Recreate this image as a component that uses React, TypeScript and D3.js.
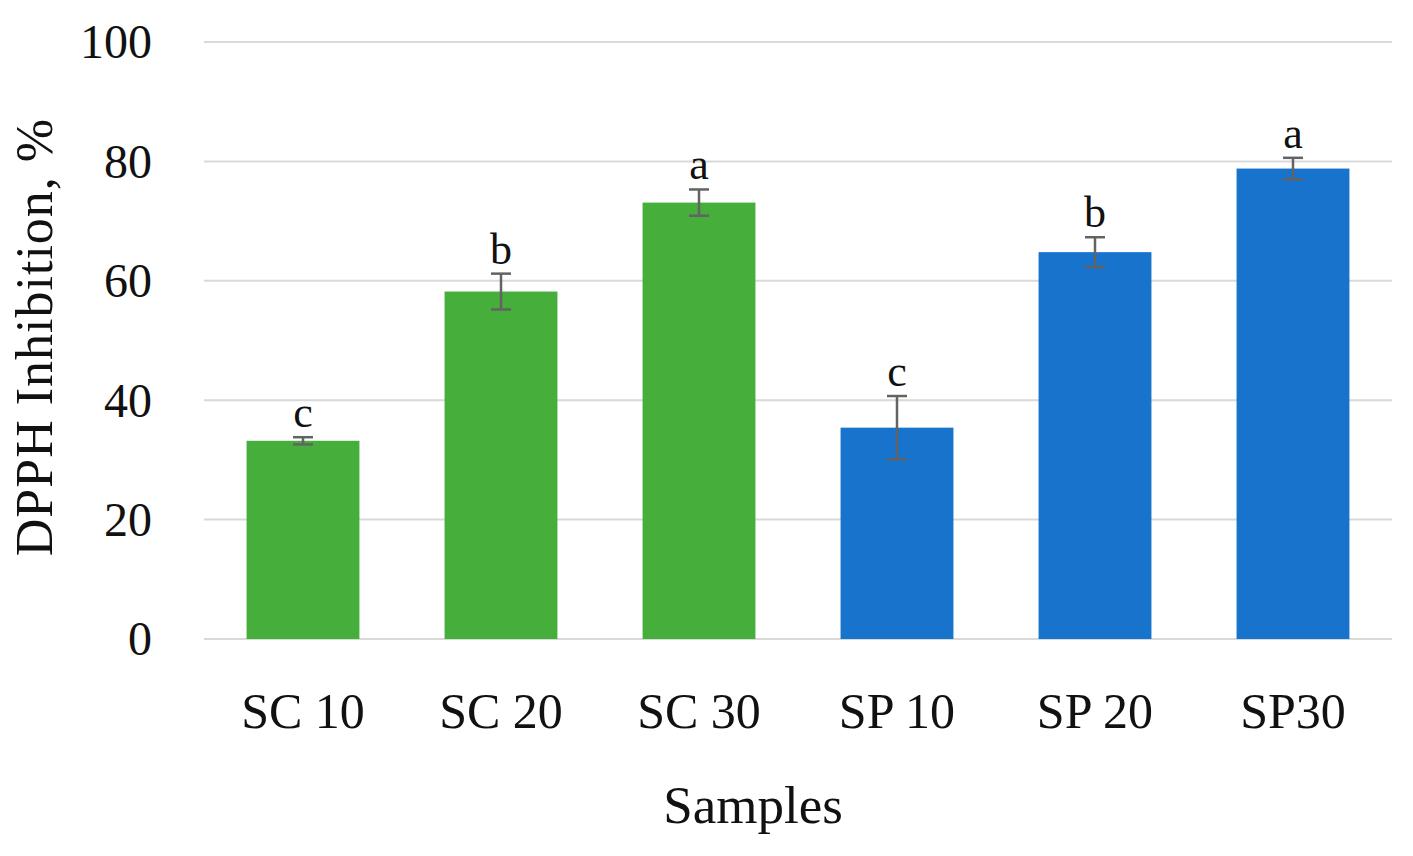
import React from "react";
import * as d3 from "d3";

const categories = ["SC 10", "SC 20", "SC 30", "SP 10", "SP 20", "SP30"];
const values = [33.2, 58.2, 73.1, 35.4, 64.8, 78.8];
const errors = [0.6, 3.0, 2.2, 5.3, 2.5, 1.8];
const letters = ["c", "b", "a", "c", "b", "a"];
const groups = ["SC", "SC", "SC", "SP", "SP", "SP"];
const yTicks = [0, 20, 40, 60, 80, 100];

const W = 1413;
const H = 856;
const margin = { left: 204, right: 21, top: 42, bottom: 217 };
const colors: Record<string, string> = { SC: "#46AF3C", SP: "#1773CB" };
const FONT = "'Liberation Serif', 'Times New Roman', serif";

export default function App() {
  const x = d3
    .scaleBand<string>()
    .domain(categories)
    .range([margin.left, W - margin.right])
    .paddingInner(0.43)
    .paddingOuter(0.215);
  const y = d3.scaleLinear().domain([0, 100]).range([H - margin.bottom, margin.top]);

  return (
    <svg
      width={W}
      height={H}
      style={{ position: "absolute", left: 0, top: 0, background: "#fff" }}
      fontFamily={FONT}
    >
      {yTicks.map((t) => (
        <g key={t}>
          <line
            x1={margin.left}
            x2={W - margin.right}
            y1={y(t)}
            y2={y(t)}
            stroke="#d9d9d9"
            strokeWidth={2}
          />
          <text x={152} y={y(t)} dy="0.34em" textAnchor="end" fontSize={48} fill="#111">
            {t}
          </text>
        </g>
      ))}
      {categories.map((c, i) => {
        const bx = x(c)!;
        const bw = x.bandwidth();
        const cx = bx + bw / 2;
        const top = y(values[i] + errors[i]);
        const bot = y(values[i] - errors[i]);
        return (
          <g key={c}>
            <rect
              x={bx}
              y={y(values[i])}
              width={bw}
              height={y(0) - y(values[i])}
              fill={colors[groups[i]]}
            />
            <line x1={cx} x2={cx} y1={top} y2={bot} stroke="#636363" strokeWidth={2.5} />
            <line x1={cx - 10} x2={cx + 10} y1={top} y2={top} stroke="#636363" strokeWidth={2.5} />
            <line x1={cx - 10} x2={cx + 10} y1={bot} y2={bot} stroke="#636363" strokeWidth={2.5} />
            <text x={cx} y={top - 10} textAnchor="middle" fontSize={44} fill="#111">
              {letters[i]}
            </text>
            <text x={cx} y={728} textAnchor="middle" fontSize={50} fill="#111">
              {c}
            </text>
          </g>
        );
      })}
      <text x={753} y={823} textAnchor="middle" fontSize={53} fill="#111">
        Samples
      </text>
      <text
        transform={`translate(52, 337) rotate(-90)`}
        textAnchor="middle"
        fontSize={52}
        letterSpacing={1}
        fill="#111"
      >
        DPPH Inhibition, %
      </text>
    </svg>
  );
}
